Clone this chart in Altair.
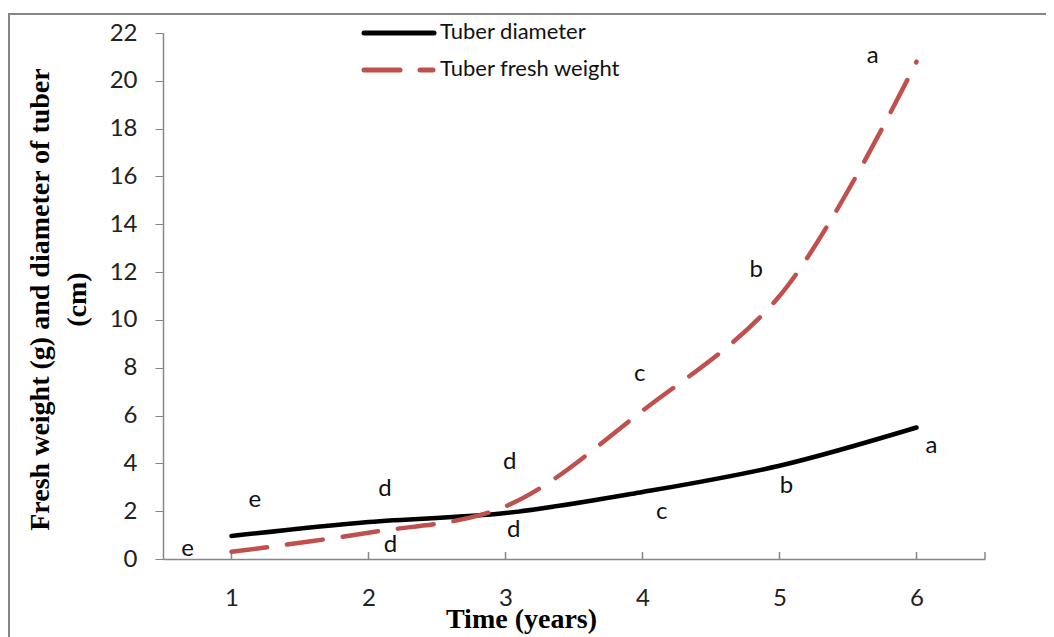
import altair as alt
import pandas as pd

# ---- data ----
years = [1, 2, 3, 4, 5, 6]
diameter = [0.96, 1.55, 1.92, 2.8, 3.9, 5.5]
fresh_weight = [0.3, 1.1, 2.2, 6.2, 11.0, 20.8]
series_names = ["Tuber diameter", "Tuber fresh weight"]
series_colors = ["#000000", "#C0504D"]

letters = ["e", "d", "d", "c", "b", "a", "e", "d", "d", "c", "b", "a"]
letter_x = [1.17, 2.12, 3.06, 4.14, 5.05, 6.11, 0.68, 2.16, 3.03, 3.98, 4.83, 5.68]
letter_y = [2.47, 2.93, 1.21, 1.97, 3.05, 4.73, 0.42, 0.59, 4.06, 7.74, 12.09, 21.04]

y_ticks = list(range(0, 23, 2))
x_ticks = years
x_tick_marks = [1, 2, 3, 4, 5, 6, 6.5]

W, H = 822, 526
GRAY = "#868686"

lines_df = pd.DataFrame({
    "year": years * 2,
    "value": diameter + fresh_weight,
    "series": [series_names[0]] * 6 + [series_names[1]] * 6,
})
letters_df = pd.DataFrame({"lx": letter_x, "ly": letter_y, "txt": letters})
ticks_df = pd.DataFrame({"t": x_tick_marks})
one = pd.DataFrame({"k": [0]})

x_scale = alt.Scale(domain=[0.5, 6.5], nice=False, zero=False)
y_scale = alt.Scale(domain=[0, 22], nice=False, zero=True)

x_axis = alt.Axis(
    values=x_ticks, format="d", title="Time (years)",
    titleFont="Liberation Serif", titleFontSize=28, titleFontWeight="bold",
    titleColor="#000000", titleX=358, titleY=60, titleBaseline="middle",
    titleAlign="center", titleAnchor="start",
    labelFont="Lato", labelFontSize=24, labelColor="#222222",
    labelPadding=27, ticks=False, tickSize=0, domainColor=GRAY,
    domainWidth=1.5, grid=False,
)
y_axis = alt.Axis(
    values=y_ticks, title=["Fresh weight (g) and diameter of tuber", "(cm)"],
    titleFont="Liberation Serif", titleFontSize=28, titleFontWeight="bold",
    titleColor="#000000", titleX=-123, titleY=266, titleBaseline="middle",
    titleAlign="center", titleAngle=270, titleLineHeight=37, titleAnchor="start",
    labelFont="Lato", labelFontSize=24, labelColor="#222222",
    labelPadding=18, tickSize=8, tickColor=GRAY, domainColor=GRAY,
    domainWidth=1.5, grid=False,
)


def xe(field):
    return alt.X(f"{field}:Q", scale=x_scale, axis=x_axis)


def ye(field):
    return alt.Y(f"{field}:Q", scale=y_scale, axis=y_axis)


frame = alt.Chart(one).mark_rect(
    fill=None, stroke=GRAY, strokeWidth=2
).encode(
    x=alt.value(-154), x2=alt.value(W + 150),
    y=alt.value(-19), y2=alt.value(H + 150),
)

tick_marks = alt.Chart(ticks_df).mark_rule(color=GRAY, strokeWidth=1.5).encode(
    x=xe("t"), y=alt.value(H), y2=alt.value(H - 7)
)

diam_line = alt.Chart(lines_df).transform_filter(
    alt.datum.series == series_names[0]
).mark_line(
    color=series_colors[0], strokeWidth=4.5, strokeCap="round", interpolate="catmull-rom"
).encode(x=xe("year"), y=ye("value"))

fw_line = alt.Chart(lines_df).transform_filter(
    alt.datum.series == series_names[1]
).mark_line(
    color=series_colors[1], strokeWidth=4.5, strokeCap="round",
    strokeDash=[36, 20], interpolate="catmull-rom"
).encode(x=xe("year"), y=ye("value"))

letter_marks = alt.Chart(letters_df).mark_text(
    font="Lato", fontSize=24, color="#111111", align="center", baseline="middle"
).encode(x=xe("lx"), y=ye("ly"), text="txt:N")

# legend (drawn by hand, top centre of the plot)
leg1_line = alt.Chart(one).mark_rule(
    color=series_colors[0], strokeWidth=5, strokeCap="round"
).encode(x=alt.value(201), x2=alt.value(271), y=alt.value(0))
leg2_line = alt.Chart(one).mark_rule(
    color=series_colors[1], strokeWidth=5, strokeCap="round", strokeDash=[36, 20]
).encode(x=alt.value(201), x2=alt.value(270), y=alt.value(37))
leg1_text = alt.Chart(one).mark_text(
    font="Lato", fontSize=22, color="#111111", align="left", baseline="middle"
).encode(x=alt.value(277), y=alt.value(-1), text=alt.value(series_names[0]))
leg2_text = alt.Chart(one).mark_text(
    font="Lato", fontSize=22, color="#111111", align="left", baseline="middle"
).encode(x=alt.value(277), y=alt.value(36), text=alt.value(series_names[1]))

chart = alt.layer(
    frame, tick_marks, diam_line, fw_line, letter_marks,
    leg1_line, leg2_line, leg1_text, leg2_text,
).properties(
    width=W, height=H,
    autosize=alt.AutoSizeParams(type="none"),
    padding={"left": 155, "top": 25, "right": 61, "bottom": 78},
    background="white",
).configure_view(stroke=None)

chart.save("out.html", embed_options={"renderer": "svg", "actions": False})
